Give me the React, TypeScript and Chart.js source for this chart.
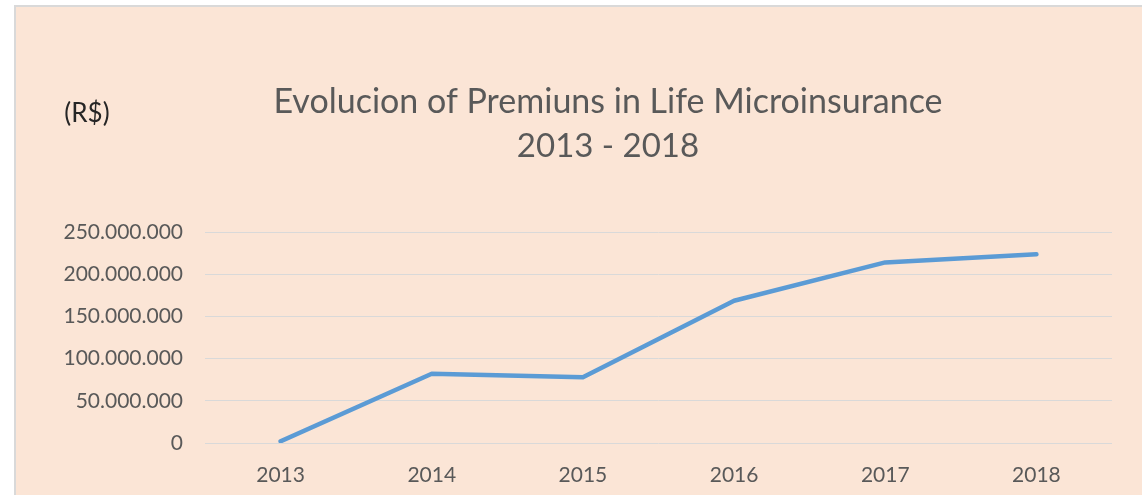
import React, { useEffect, useRef } from "react";
import { Chart, registerables } from "chart.js";

Chart.register(...registerables);

const categories = ["2013", "2014", "2015", "2016", "2017", "2018"];
const premiums = [2000000, 82000000, 78000000, 168500000, 214000000, 223500000];
const titleLines = ["Evolucion of Premiuns in Life Microinsurance", "2013 - 2018"];
const unitLabel = "(R$)";
const yMin = 0;
const yMax = 250000000;
const yStep = 50000000;

const FONT = "Lato, 'Open Sans', sans-serif";

function formatThousands(v: number): string {
  return String(Math.round(v)).replace(/\B(?=(\d{3})+(?!\d))/g, ".");
}

const titlePlugin = {
  id: "customTitle",
  afterDraw(chart: any) {
    const ctx = chart.ctx;
    ctx.save();
    ctx.fillStyle = "#595959";
    ctx.textAlign = "center";
    ctx.textBaseline = "alphabetic";
    ctx.font = `34px ${FONT}`;
    ctx.fillText(titleLines[0], 608, 113);
    ctx.font = `33px ${FONT}`;
    ctx.fillText(titleLines[1], 608, 157);
    ctx.fillStyle = "#262626";
    ctx.font = `26px ${FONT}`;
    ctx.textAlign = "center";
    ctx.fillText(unitLabel, 87, 122);
    ctx.restore();
  },
};

export default function App() {
  const ref = useRef<HTMLCanvasElement | null>(null);

  useEffect(() => {
    document.body.style.margin = "0";
    const canvas = ref.current;
    if (!canvas) return;
    const chart = new Chart(canvas, {
      type: "line",
      data: {
        labels: categories,
        datasets: [
          {
            data: premiums,
            borderColor: "#5B9BD5",
            borderWidth: 4.5,
            borderCapStyle: "round",
            borderJoinStyle: "round",
            pointRadius: 0,
            fill: false,
            tension: 0,
          },
        ],
      },
      options: {
        animation: false,
        responsive: false,
        maintainAspectRatio: false,
        layout: { padding: { top: 232, right: 30, left: 0, bottom: 0 } },
        plugins: {
          legend: { display: false },
          title: { display: false },
          tooltip: { enabled: false },
        },
        scales: {
          x: {
            offset: true,
            grid: { display: false, drawTicks: false },
            border: { display: false },
            ticks: {
              color: "#595959",
              font: { family: FONT, size: 21 },
              padding: 20,
              maxRotation: 0,
            },
            afterFit(scale: any) {
              scale.height = 52;
            },
          },
          y: {
            min: yMin,
            max: yMax,
            grid: { color: "#D9D9D9", lineWidth: 1, drawTicks: false },
            border: { display: false },
            ticks: {
              stepSize: yStep,
              color: "#595959",
              font: { family: FONT, size: 21 },
              padding: 22,
              callback: (v: any) => formatThousands(Number(v)),
            },
            afterFit(scale: any) {
              scale.width = 205;
            },
          },
        },
      },
      plugins: [titlePlugin],
    });
    return () => chart.destroy();
  }, []);

  return (
    <div style={{ position: "relative", width: 1142, height: 495, background: "#FFFFFF", overflow: "hidden" }}>
      <div
        style={{
          position: "absolute",
          left: 14,
          top: 5,
          width: 1128,
          height: 490,
          boxSizing: "border-box",
          borderTop: "2px solid #D9D9D9",
          borderLeft: "2px solid #D9D9D9",
          background: "#FBE5D6",
        }}
      />
      <canvas ref={ref} width={1142} height={495} style={{ position: "absolute", left: 0, top: 0, width: 1142, height: 495 }} />
    </div>
  );
}
